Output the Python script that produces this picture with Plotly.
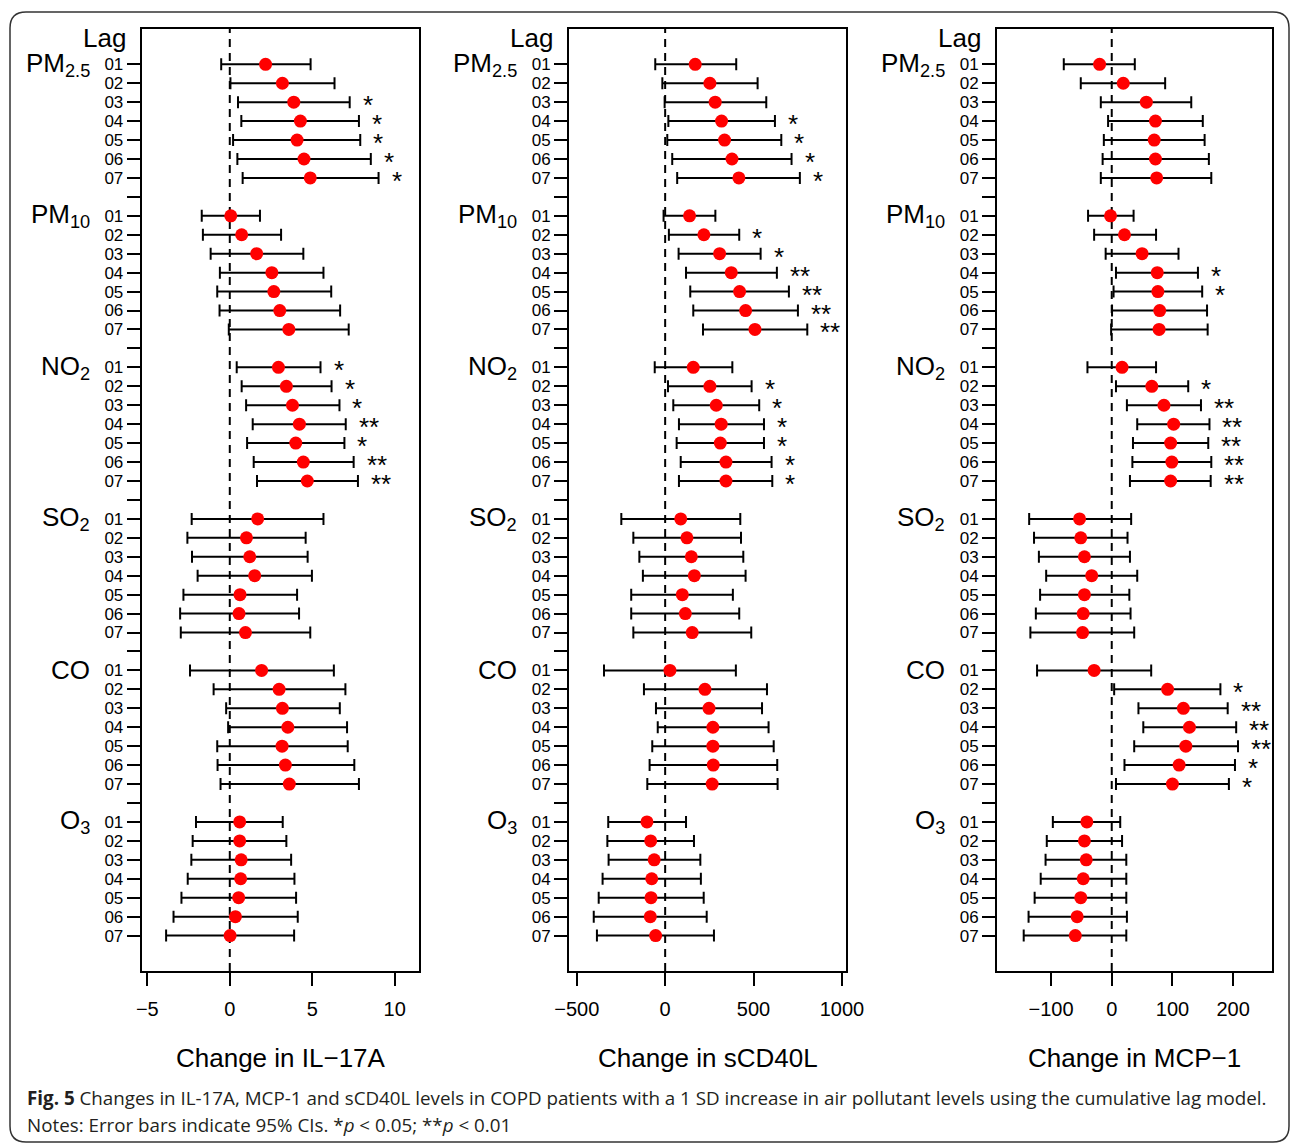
import plotly.graph_objects as go

W, H = 1292, 1145

pollutants = ["PM<sub>2.5</sub>", "PM<sub>10</sub>", "NO<sub>2</sub>", "SO<sub>2</sub>", "CO", "O<sub>3</sub>"]
lags = ["01", "02", "03", "04", "05", "06", "07"]
x_ticks_il17a = [-5, 0, 5, 10]
x_ticks_scd40l = [-500, 0, 500, 1000]
x_ticks_mcp1 = [-100, 0, 100, 200]

# ---- IL-17A (order: PM2.5, PM10, NO2, SO2, CO, O3; lags 01..07) ----
il17a_est = [2.17, 3.19, 3.88, 4.28, 4.08, 4.50, 4.88,
             0.06, 0.72, 1.63, 2.55, 2.67, 3.03, 3.58,
             2.95, 3.43, 3.80, 4.22, 4.00, 4.46, 4.70,
             1.69, 1.01, 1.21, 1.51, 0.62, 0.56, 0.95,
             1.93, 2.99, 3.19, 3.52, 3.17, 3.37, 3.61,
             0.60, 0.60, 0.69, 0.66, 0.54, 0.34, 0.02]
il17a_lo = [-0.52, 0.04, 0.50, 0.70, 0.20, 0.46, 0.78,
            -1.70, -1.63, -1.16, -0.60, -0.76, -0.62, -0.06,
            0.42, 0.72, 0.99, 1.39, 1.05, 1.45, 1.65,
            -2.31, -2.57, -2.29, -1.95, -2.81, -3.01, -2.97,
            -2.41, -0.98, -0.22, -0.10, -0.76, -0.74, -0.56,
            -2.05, -2.25, -2.33, -2.55, -2.93, -3.41, -3.86]
il17a_hi = [4.90, 6.35, 7.27, 7.83, 7.91, 8.55, 9.02,
            1.83, 3.11, 4.46, 5.68, 6.15, 6.69, 7.21,
            5.50, 6.17, 6.65, 7.03, 6.95, 7.51, 7.77,
            5.68, 4.60, 4.72, 4.98, 4.08, 4.20, 4.88,
            6.31, 7.01, 6.67, 7.11, 7.15, 7.55, 7.83,
            3.21, 3.43, 3.72, 3.92, 4.02, 4.12, 3.90]
il17a_sig = ["", "", "*", "*", "*", "*", "*",
             "", "", "", "", "", "", "",
             "*", "*", "*", "**", "*", "**", "**",
             "", "", "", "", "", "", "",
             "", "", "", "", "", "", "",
             "", "", "", "", "", "", ""]

# ---- sCD40L ----
scd40l_est = [170, 253, 283, 319, 336, 378, 417,
              138, 219, 308, 374, 421, 455, 508,
              159, 253, 289, 317, 312, 344, 344,
              88, 123, 148, 165, 97, 114, 153,
              27, 225, 248, 270, 270, 272, 266,
              -103, -82, -62, -76, -80, -84, -54]
scd40l_lo = [-56, -16, -3, 18, 12, 40, 68,
             -9, 21, 76, 118, 142, 159, 214,
             -59, 16, 46, 78, 65, 88, 78,
             -248, -180, -146, -126, -192, -192, -180,
             -346, -120, -52, -42, -73, -88, -101,
             -322, -327, -320, -354, -376, -404, -386]
scd40l_hi = [402, 523, 572, 621, 657, 715, 762,
             284, 419, 540, 632, 700, 751, 804,
             380, 489, 532, 559, 559, 602, 606,
             425, 429, 442, 455, 383, 419, 487,
             400, 576, 548, 585, 614, 634, 636,
             118, 163, 199, 202, 218, 235, 276]
scd40l_sig = ["", "", "", "*", "*", "*", "*",
              "", "*", "*", "**", "**", "**", "**",
              "", "*", "*", "*", "*", "*", "*",
              "", "", "", "", "", "", "",
              "", "", "", "", "", "", "",
              "", "", "", "", "", "", ""]

# ---- MCP-1 ----
mcp1_est = [-20, 19, 57, 72, 70, 72, 74,
            -2, 21, 50, 75, 76, 79, 78,
            17, 66, 86, 102, 97, 99, 97,
            -53, -51, -45, -33, -45, -47, -48,
            -29, 92, 118, 128, 122, 111, 100,
            -41, -45, -42, -47, -51, -57, -60]
mcp1_lo = [-79, -51, -18, -6, -13, -15, -18,
           -39, -29, -10, 7, 3, 0.5, -1,
           -40, 7, 25, 42, 35, 34, 30,
           -136, -128, -120, -108, -118, -125, -134,
           -123, 4, 44, 52, 37, 21, 7,
           -97, -107, -109, -117, -127, -137, -145]
mcp1_hi = [38, 88, 131, 150, 153, 160, 164,
           36, 73, 110, 142, 149, 157, 158,
           73, 126, 147, 161, 159, 164, 163,
           32, 26, 30, 42, 29, 31, 37,
           65, 179, 191, 205, 208, 203, 193,
           14, 17, 24, 24, 24, 25, 24]
mcp1_sig = ["", "", "", "", "", "", "",
            "", "", "", "*", "*", "", "",
            "", "*", "**", "**", "**", "**", "**",
            "", "", "", "", "", "", "",
            "", "*", "**", "**", "**", "*", "*",
            "", "", "", "", "", "", ""]

panels = [
    dict(est=il17a_est, lo=il17a_lo, hi=il17a_hi, sig=il17a_sig, ticks=x_ticks_il17a,
         title="Change in IL\u221217A", px=(141.7, 419.3), rng=[-5.34, 11.49]),
    dict(est=scd40l_est, lo=scd40l_lo, hi=scd40l_hi, sig=scd40l_sig, ticks=x_ticks_scd40l,
         title="Change in sCD40L", px=(569.0, 846.0), rng=[-544, 1023]),
    dict(est=mcp1_est, lo=mcp1_lo, hi=mcp1_hi, sig=mcp1_sig, ticks=x_ticks_mcp1,
         title="Change in MCP\u22121", px=(997.0, 1272.0), rng=[-189, 264]),
]

# row positions: 8 slots per pollutant (7 lags + blank)
ypos = [g * 8 + j for g in range(len(pollutants)) for j in range(len(lags))]
all_ticks = list(range(0, 47))
all_text = [lags[k % 8] if k % 8 < 7 else "" for k in all_ticks]

Y_TOP_PX, Y_BOT_PX = 28.5, 971.0
y_dom = [1 - Y_BOT_PX / H, 1 - Y_TOP_PX / H]
y_range = [47.87, -1.89]

FONT = "Liberation Sans, Arial, Helvetica, sans-serif"

fig = go.Figure()
annotations = []
shapes = []

for i, p in enumerate(panels):
    n = i + 1
    xa = "x" if n == 1 else f"x{n}"
    ya = "y" if n == 1 else f"y{n}"
    plus = [h - e for h, e in zip(p["hi"], p["est"])]
    minus = [e - l for e, l in zip(p["est"], p["lo"])]
    fig.add_trace(go.Scatter(
        x=p["est"], y=ypos, mode="markers", xaxis=xa, yaxis=ya,
        marker=dict(color="#ff0000", size=13, line=dict(width=0)),
        error_x=dict(type="data", symmetric=False, array=plus, arrayminus=minus,
                     color="black", thickness=2, width=6),
        showlegend=False, hoverinfo="skip"))

    d0, d1 = p["px"][0] / W, p["px"][1] / W
    ax_key = "xaxis" if n == 1 else f"xaxis{n}"
    ay_key = "yaxis" if n == 1 else f"yaxis{n}"
    fig.layout[ax_key] = dict(
        domain=[d0, d1], range=p["rng"], anchor=ya, automargin=False,
        tickvals=p["ticks"], ticks="outside", ticklen=13, tickwidth=2, tickcolor="black",
        ticklabelstandoff=6,
        tickfont=dict(family=FONT, size=20, color="black"),
        showline=True, linecolor="black", linewidth=2, mirror=True,
        showgrid=False, zeroline=False, fixedrange=True)
    fig.layout[ay_key] = dict(
        domain=y_dom, range=y_range, anchor=xa, automargin=False,
        tickvals=all_ticks, ticktext=all_text, ticks="outside", ticklen=13, tickwidth=2,
        tickcolor="black", tickfont=dict(family=FONT, size=17, color="black"),
        showline=True, linecolor="black", linewidth=2, mirror=True,
        showgrid=False, zeroline=False, fixedrange=True)

    # dashed zero line
    shapes.append(dict(type="line", xref=xa, yref=f"{ya} domain", x0=0, x1=0, y0=0, y1=1,
                       line=dict(color="black", width=2, dash="8px,6px"), layer="below"))

    # significance stars
    for k, s in enumerate(p["sig"]):
        if s:
            annotations.append(dict(x=p["hi"][k], y=ypos[k], xref=xa, yref=ya, text=s,
                                    showarrow=False, xanchor="left", yanchor="middle",
                                    xshift=11, yshift=-3,
                                    font=dict(family=FONT, size=26, color="black")))

    # pollutant labels
    for g, name in enumerate(pollutants):
        annotations.append(dict(x=(p["px"][0] - 50) / W, y=g * 8, xref="paper", yref=ya,
                                text=name, showarrow=False, xanchor="right", yanchor="middle",
                                font=dict(family=FONT, size=26, color="black")))
    # Lag header
    annotations.append(dict(x=(p["px"][0] - 14) / W, y=-1.4, xref="paper", yref=ya,
                            text="Lag", showarrow=False, xanchor="right", yanchor="middle",
                            font=dict(family=FONT, size=26, color="black")))
    # axis title
    annotations.append(dict(x=(d0 + d1) / 2, y=1 - 1058 / H, xref="paper", yref="paper",
                            text=p["title"], showarrow=False, xanchor="center", yanchor="middle",
                            font=dict(family=FONT, size=26, color="black")))

# caption
CAP_FONT = "Open Sans, Noto Sans, sans-serif"
annotations.append(dict(x=25 / W, y=1 - 1098 / H, xref="paper", yref="paper",
                        text="<b>Fig. 5</b> Changes in IL-17A, MCP-1 and sCD40L levels in COPD patients "
                             "with a 1 SD increase in air pollutant levels using the cumulative lag model.",
                        showarrow=False, xanchor="left", yanchor="middle",
                        font=dict(family=CAP_FONT, size=18.8, color="#231f20")))
annotations.append(dict(x=25 / W, y=1 - 1125 / H, xref="paper", yref="paper",
                        text="Notes: Error bars indicate 95% CIs. *<i>p</i> &lt; 0.05; **<i>p</i> &lt; 0.01",
                        showarrow=False, xanchor="left", yanchor="middle",
                        font=dict(family=CAP_FONT, size=18.8, color="#231f20")))

# rounded outer frame
def px(x, y):
    return f"{x / W:.5f},{1 - y / H:.5f}"

x0, y0, x1, y1, r = 10, 12, 1289, 1142, 16
path = (f"M {px(x0 + r, y0)} L {px(x1 - r, y0)} Q {px(x1, y0)} {px(x1, y0 + r)} "
        f"L {px(x1, y1 - r)} Q {px(x1, y1)} {px(x1 - r, y1)} "
        f"L {px(x0 + r, y1)} Q {px(x0, y1)} {px(x0, y1 - r)} "
        f"L {px(x0, y0 + r)} Q {px(x0, y0)} {px(x0 + r, y0)} Z")
shapes.append(dict(type="path", xref="paper", yref="paper", path=path,
                   line=dict(color="#333333", width=1.5), layer="below"))

fig.update_layout(
    width=W, height=H, autosize=False, margin=dict(l=0, r=0, t=0, b=0, pad=0),
    paper_bgcolor="white", plot_bgcolor="white",
    annotations=annotations, shapes=shapes,
    font=dict(family=FONT, color="black"),
)

fig.write_html("out.html", config={"displayModeBar": False, "responsive": False},
               post_script="document.body.style.margin='0';document.body.style.overflow='hidden';")
